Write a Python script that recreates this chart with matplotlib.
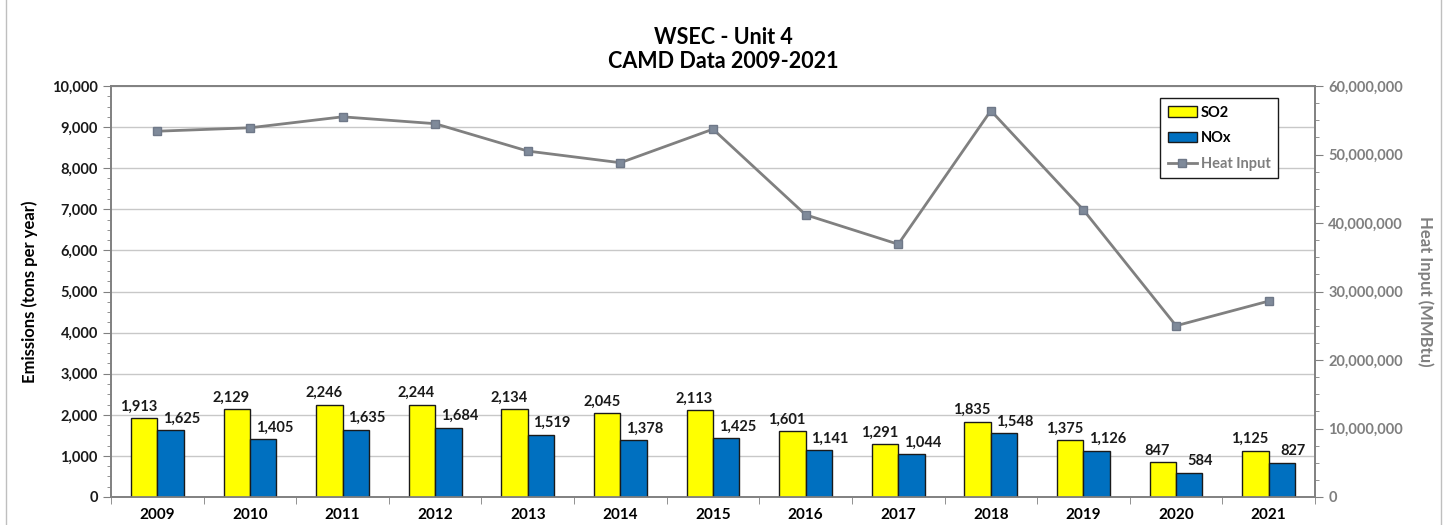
import matplotlib

matplotlib.use("Agg")

import matplotlib.pyplot as plt
import numpy as np
from matplotlib.patches import Rectangle
from matplotlib.ticker import FuncFormatter, MultipleLocator

plt.rcParams["font.family"] = ["Lato", "DejaVu Sans"]
plt.rcParams["font.weight"] = "bold"

years = ["2009", "2010", "2011", "2012", "2013", "2014", "2015",
         "2016", "2017", "2018", "2019", "2020", "2021"]
so2 = [1913, 2129, 2246, 2244, 2134, 2045, 2113, 1601, 1291, 1835, 1375, 847, 1125]
nox = [1625, 1405, 1635, 1684, 1519, 1378, 1425, 1141, 1044, 1548, 1126, 584, 827]
heat_input = [53.4e6, 53.9e6, 55.5e6, 54.5e6, 50.5e6, 48.8e6, 53.7e6,
              41.2e6, 36.9e6, 56.4e6, 41.9e6, 25.0e6, 28.6e6]

grey = "#808080"
tick_grey = "#7f7f7f"

fig = plt.figure(figsize=(14.47, 5.25), dpi=100, facecolor="white")
ax = fig.add_axes([111 / 1447, 1 - 497 / 525, (1315 - 111) / 1447, (497 - 86) / 525])
ax2 = ax.twinx()

x = np.arange(len(years))
w = 0.285
ax.bar(x - w / 2, so2, w, color="#ffff00", edgecolor="#1a1a1a", linewidth=1.0,
       label="SO2", zorder=3)
ax.bar(x + w / 2, nox, w, color="#0070c0", edgecolor="#1a1a1a", linewidth=1.0,
       label="NOx", zorder=3)

for i in range(len(years)):
    ax.text(x[i] - w / 2 - 0.06, so2[i] + 110, f"{so2[i]:,}", ha="center", va="bottom",
            fontsize=10.5, fontweight="bold", color="#1a1a1a", zorder=4)
    ax.text(x[i] + w / 2 + 0.12, nox[i] + 110, f"{nox[i]:,}", ha="center", va="bottom",
            fontsize=10.5, fontweight="bold", color="#1a1a1a", zorder=4)

ax2.plot(x, heat_input, color=grey, linewidth=2.0, marker="s", markersize=6,
         markerfacecolor="#7f8a9a", markeredgecolor="#6f7888", label="Heat Input", zorder=5)

ax.set_xlim(-0.5, len(years) - 0.5)
ax.set_ylim(0, 10000)
ax2.set_ylim(0, 60e6)

ax.yaxis.set_major_locator(MultipleLocator(1000))
ax.yaxis.set_minor_locator(MultipleLocator(250))
ax2.yaxis.set_major_locator(MultipleLocator(10e6))
ax2.yaxis.set_minor_locator(MultipleLocator(2.5e6))
ax.yaxis.set_major_formatter(FuncFormatter(lambda v, p: f"{int(v):,}"))
ax2.yaxis.set_major_formatter(FuncFormatter(lambda v, p: f"{int(v):,}"))

ax.set_xticks(x)
ax.set_xticklabels(years, fontsize=11, fontweight="bold")
ax.set_xticks(np.arange(-0.5, len(years), 1), minor=True)
ax.tick_params(axis="x", which="major", length=0, pad=8)
ax.tick_params(axis="x", which="minor", length=5, color=grey, direction="out")
ax.tick_params(axis="y", which="major", length=6, color=grey, labelsize=10.5, labelcolor="#1a1a1a")
ax.tick_params(axis="y", which="minor", length=3, color=grey)
ax2.tick_params(axis="y", which="major", length=6, color=grey, labelsize=10.5, labelcolor=tick_grey)
ax2.tick_params(axis="y", which="minor", length=3, color=grey)
for t in ax.get_yticklabels() + ax2.get_yticklabels():
    t.set_fontweight("bold")

ax.grid(axis="y", color="#c8c8c8", linewidth=1.0, zorder=0)
ax.set_axisbelow(True)

for a in (ax, ax2):
    for s in a.spines.values():
        s.set_color(grey)
        s.set_linewidth(1.2)

ax.set_ylabel("Emissions (tons per year)", fontsize=12, fontweight="bold", labelpad=10)
ax2.set_ylabel("Heat Input (MMBtu)", fontsize=12, fontweight="bold", color=tick_grey,
               rotation=270, labelpad=22)

fig.text(0.5, 1 - 38 / 525, "WSEC - Unit 4", ha="center", va="center",
         fontsize=15.5, fontweight="bold")
fig.text(0.5, 1 - 61 / 525, "CAMD Data 2009-2021", ha="center", va="center",
         fontsize=15.5, fontweight="bold")

h1, l1 = ax.get_legend_handles_labels()
h2, l2 = ax2.get_legend_handles_labels()
leg = ax2.legend(h1 + h2, l1 + l2, loc="upper left",
                 bbox_to_anchor=((1153 - 111) / 1204, 1 - (91 - 86) / 411),
                 frameon=True, fancybox=False, edgecolor="#1a1a1a", framealpha=1,
                 fontsize=10.5, handlelength=2.0, handletextpad=0.3,
                 labelspacing=0.8, borderpad=0.5)
leg.get_frame().set_linewidth(1.0)
leg.set_zorder(10)
for t in leg.get_texts():
    t.set_fontweight("bold")
leg.get_texts()[2].set_color(tick_grey)

fig.add_artist(Rectangle((6 / 1447, -0.01), (1441 - 6) / 1447, 1.02, transform=fig.transFigure,
                         fill=False, edgecolor="#bfbfbf", linewidth=1.0))

fig.savefig("out.png", dpi=100, facecolor="white")
